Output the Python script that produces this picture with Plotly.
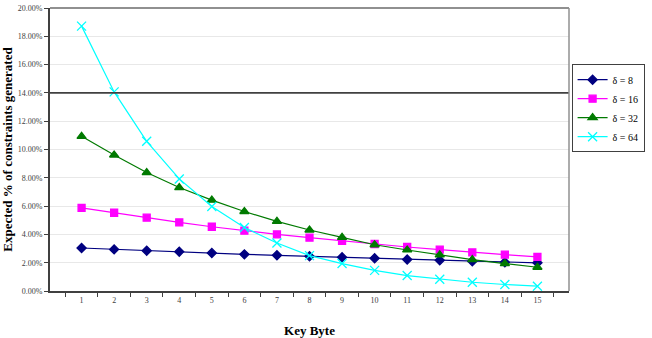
import plotly.graph_objects as go

key_bytes = [str(i) for i in range(1, 16)]
delta_8 = [3.04, 2.94, 2.85, 2.78, 2.69, 2.59, 2.52, 2.45, 2.38, 2.31, 2.22, 2.17, 2.10, 2.03, 1.99]
delta_16 = [5.88, 5.53, 5.18, 4.85, 4.54, 4.26, 4.00, 3.77, 3.54, 3.32, 3.11, 2.92, 2.73, 2.57, 2.41]
delta_32 = [10.93, 9.61, 8.37, 7.31, 6.42, 5.62, 4.92, 4.31, 3.79, 3.27, 2.90, 2.55, 2.22, 1.94, 1.68]
delta_64 = [18.72, 14.07, 10.58, 7.92, 5.97, 4.49, 3.39, 2.50, 1.94, 1.46, 1.09, 0.83, 0.62, 0.46, 0.34]
series_names = ["δ = 8", "δ = 16", "δ = 32", "δ = 64"]
y_ticks = [0, 2, 4, 6, 8, 10, 12, 14, 16, 18, 20]
y_tick_text = [f"{v:.2f}%" for v in y_ticks]
threshold = 14

FONT = "Liberation Serif"

styles = [
    dict(color="#000080", symbol="diamond", size=7),
    dict(color="#FF00FF", symbol="square", size=7),
    dict(color="#007A00", symbol="triangle-up", size=8),
    dict(color="#00FFFF", symbol="x-thin", size=9),
]

fig = go.Figure()
for name, vals, st in zip(series_names, [delta_8, delta_16, delta_32, delta_64], styles):
    fig.add_trace(go.Scatter(
        x=key_bytes, y=vals, name=name, mode="lines+markers",
        line=dict(color=st["color"], width=1.2),
        marker=dict(symbol=st["symbol"], size=st["size"], color=st["color"],
                    line=dict(color=st["color"], width=1.3)),
    ))

# threshold line
fig.add_shape(type="line", xref="paper", x0=0, x1=1, yref="y", y0=threshold, y1=threshold,
              line=dict(color="#404040", width=1.6), layer="above")
# top and right plot border
fig.add_shape(type="line", xref="paper", x0=0, x1=1, yref="paper", y0=1, y1=1,
              line=dict(color="#909090", width=2))
fig.add_shape(type="line", xref="paper", x0=1, x1=1, yref="paper", y0=0, y1=1,
              line=dict(color="#909090", width=1.5))

fig.update_layout(
    width=652, height=338,
    margin=dict(l=50, r=66, t=7.5, b=46.5),
    paper_bgcolor="white", plot_bgcolor="white",
    font=dict(family=FONT, color="black"),
    legend=dict(
        x=1.005, y=0.646, xanchor="left", yanchor="middle",
        bgcolor="white", bordercolor="#404040", borderwidth=1,
        font=dict(family=FONT, size=10, color="black"),
        itemwidth=30, tracegroupgap=0,
    ),
    xaxis=dict(
        type="category", tickson="boundaries", ticks="outside", ticklen=4,
        tickcolor="#404040", tickwidth=1.2,
        showline=True, linecolor="#404040", linewidth=2,
        showgrid=False, zeroline=False,
        tickfont=dict(family=FONT, size=8, color="#404040"),
        title=dict(text="<b>Key Byte</b>", font=dict(family=FONT, size=13, color="black"), standoff=25),
        automargin=False,
    ),
    yaxis=dict(
        range=[0, 20], tickvals=y_ticks, ticktext=y_tick_text,
        ticks="outside", ticklen=4, tickcolor="#404040", tickwidth=1.2,
        showline=True, linecolor="#404040", linewidth=2,
        showgrid=True, gridcolor="#E8E8E8", gridwidth=1, zeroline=False,
        tickfont=dict(family=FONT, size=8, color="#404040"),
        title=dict(text="<b>Expected % of constraints generated</b>",
                   font=dict(family=FONT, size=13, color="black"), standoff=8),
        automargin=False,
    ),
)

fig.write_html("out.html")
